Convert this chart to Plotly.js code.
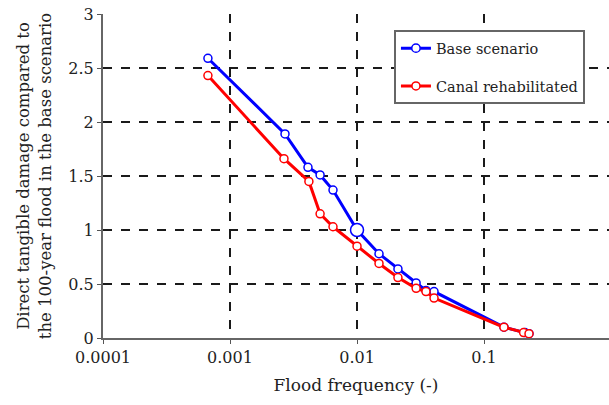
<!DOCTYPE html>
<html>
<head>
<meta charset="utf-8">
<script src="https://cdn.plot.ly/plotly-3.0.1.min.js"></script>
<style>html,body{margin:0;padding:0;background:#fff;overflow:hidden}</style>
</head>
<body>
<div id="chart" style="width:609px;height:405px"></div>
<script>
// Flood frequency (-) for each event
const freqBase = [0.00067, 0.00271, 0.00411, 0.00512, 0.00647, 0.01, 0.0149, 0.021, 0.0292, 0.0349, 0.0404, 0.1435, 0.21, 0.226];
const damageBase = [2.59, 1.89, 1.58, 1.51, 1.37, 1.0, 0.78, 0.64, 0.51, 0.44, 0.43, 0.10, 0.05, 0.04];
const freqCanal = [0.00067, 0.00266, 0.00418, 0.00512, 0.00647, 0.01, 0.0149, 0.021, 0.0292, 0.0349, 0.0404, 0.1435, 0.205, 0.226];
const damageCanal = [2.43, 1.66, 1.45, 1.15, 1.03, 0.85, 0.69, 0.56, 0.46, 0.43, 0.37, 0.10, 0.05, 0.04];
const seriesNames = ["Base scenario", "Canal rehabilitated"];
const xTickVals = [0.0001, 0.001, 0.01, 0.1];
const xTickText = ["0.0001", "0.001", "0.01", "0.1"];
const yTickVals = [0, 0.5, 1, 1.5, 2, 2.5, 3];
const yTickText = ["0", "0.5", "1", "1.5", "2", "2.5", "3"];

const baseSizes = freqBase.map(f => f === 0.01 ? 13 : 8);

const traces = [
  {
    x: freqBase, y: damageBase, name: seriesNames[0], legendgroup: "a",
    type: "scatter", mode: "lines+markers",
    line: {color: "#0000ff", width: 3},
    marker: {symbol: "circle", size: baseSizes, color: "#ffffff", opacity: 1, line: {color: "#0000ff", width: 1.5}}
  },
  {
    x: freqCanal, y: damageCanal, name: seriesNames[1], legendgroup: "b",
    type: "scatter", mode: "lines+markers",
    line: {color: "#ff0000", width: 3},
    marker: {symbol: "circle", size: 8, color: "#ffffff", opacity: 1, line: {color: "#ff0000", width: 1.5}}
  }
];

const fam = "DejaVu Serif";
const mk = (s) => ({family: fam, size: s, color: "#222222"});

const layout = {
  width: 609, height: 405,
  margin: {l: 103, r: 0, t: 14, b: 67},
  paper_bgcolor: "#ffffff", plot_bgcolor: "#ffffff",
  font: mk(15),
  showlegend: true,
  legend: {
    x: 0.575, y: 0.95, xanchor: "left", yanchor: "top",
    bgcolor: "#ffffff", bordercolor: "#666666", borderwidth: 2,
    font: mk(14.5),
    traceorder: "grouped", tracegroupgap: 16, itemwidth: 30
  },
  xaxis: {
    type: "log", range: [-4, -0.016], automargin: false,
    tickvals: xTickVals, ticktext: xTickText,
    ticks: "outside", ticklen: 4, tickcolor: "#555",
    showline: true, linecolor: "#666", linewidth: 2,
    showgrid: true, gridcolor: "#1a1a1a", griddash: "dash", gridwidth: 1.5,
    zeroline: false,
    tickfont: mk(16),
    title: {text: "Flood frequency (-)", font: mk(17), standoff: 13}
  },
  yaxis: {
    range: [0, 3], automargin: false,
    tickvals: yTickVals, ticktext: yTickText,
    ticks: "outside", ticklen: 4, tickcolor: "#555",
    showline: true, linecolor: "#666", linewidth: 2,
    showgrid: true, gridcolor: "#1a1a1a", griddash: "dash", gridwidth: 1.5,
    zeroline: false,
    tickfont: mk(16),
    title: {text: "Direct tangible damage compared to<br>the 100-year flood in the base scenario", font: mk(16.5), standoff: 13}
  }
};

Plotly.newPlot("chart", traces, layout, {displayModeBar: false, staticPlot: true});
</script>
</body>
</html>
